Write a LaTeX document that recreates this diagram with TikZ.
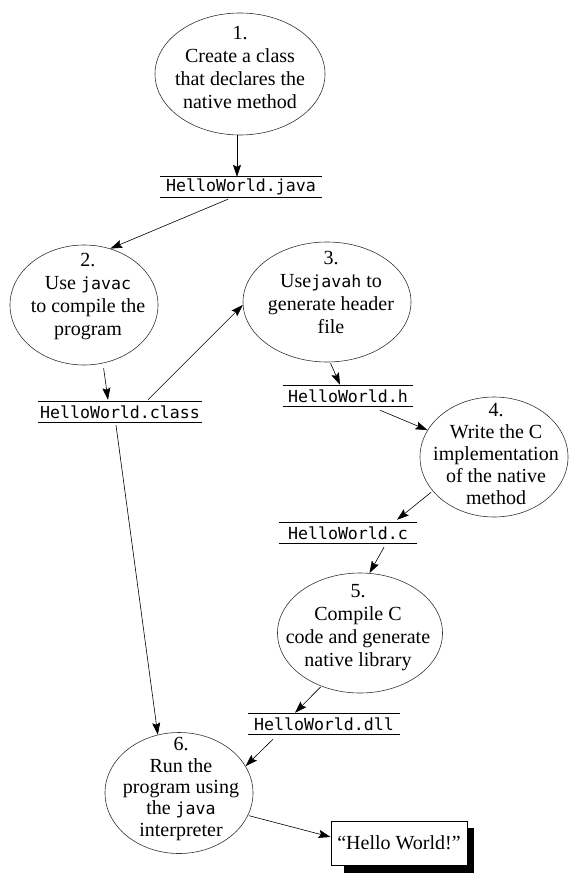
\documentclass[tikz,border=0pt]{standalone}
\usepackage{fontspec}
\setmainfont{Liberation Serif}
\setmonofont{DejaVu Sans Mono}[Scale=0.83]
\usetikzlibrary{shapes.geometric,arrows.meta,backgrounds}
\begin{document}
\begin{tikzpicture}[x=1pt,y=-1pt,
  font=\fontsize{20}{23}\selectfont,
  stepell/.style={ellipse, draw=black!80, line width=0.6pt, inner sep=0pt},
  txt/.style={align=center, font=\fontsize{20}{23}\selectfont},
  code/.style={font=\fontsize{20}{20}\selectfont\ttfamily, minimum height=20pt, inner sep=0pt},
  rulefine/.style={line width=1pt},
  arr/.style={-{Stealth[length=12pt,width=8pt,inset=2pt]}, line width=0.6pt}]
\useasboundingbox (0,0) rectangle (581,880);

% ellipses
\node[stepell, minimum width=170pt, minimum height=122pt,
  label={[txt,yshift=6.5pt]center:{1.\\Create a class\\that declares the\\native method}}] (e1) at (240,74) {};
\node[stepell, minimum width=148pt, minimum height=120pt,
  label={[txt,yshift=8pt,xshift=4pt]center:{2.\\Use \texttt{javac}\\to compile the\\program}}] (e2) at (84,305) {};
\node[stepell, minimum width=168pt, minimum height=120pt,
  label={[txt,yshift=10pt,xshift=4pt]center:{3.\\Use\texttt{javah} to\\generate header\\file}}] (e3) at (327,302) {};
\node[stepell, minimum width=148pt, minimum height=120pt,
  label={[txt,yshift=3pt,xshift=2pt,font=\fontsize{20}{21.8}\selectfont]center:{4.\\Write the C\\implementation\\of the native\\method}}] (e4) at (494,457) {};
\node[stepell, minimum width=165pt, minimum height=120pt,
  label={[txt,yshift=5pt,xshift=-2pt]center:{5.\\Compile C\\code and generate\\native library}}] (e5) at (360,633) {};
\node[stepell, minimum width=148pt, minimum height=121pt,
  label={[txt,yshift=4pt,xshift=2pt,font=\fontsize{20}{21.3}\selectfont]center:{6.\\Run the\\program using\\the \texttt{java}\\interpreter}}] (e6) at (179,793) {};

% code files
\node[code, minimum width=162pt] (java) at (241,187) {HelloWorld.java};
\node[code, minimum width=164pt] (cls) at (120,412) {HelloWorld.class};
\node[code, minimum width=130pt] (hh) at (348,396) {HelloWorld.h};
\node[code, minimum width=138pt] (cc) at (348,533) {HelloWorld.c};
\node[code, minimum width=152pt] (dll) at (324,724) {HelloWorld.dll};
\foreach \n in {java,cls,hh,cc,dll}{
  \draw[rulefine] (\n.north west) -- (\n.north east);
  \draw[rulefine] (\n.south west) -- (\n.south east);
}

% output box
\node[draw, line width=0.8pt, fill=white, minimum width=136pt, minimum height=44pt, inner sep=0pt] (hw) at (399,843) {“Hello World!”};
\begin{pgfonlayer}{background}
\fill[black] ([xshift=13pt,yshift=-8pt]hw.south west) rectangle ([xshift=7pt,yshift=-7pt]hw.north east);
\end{pgfonlayer}

% connectors
\draw[arr] ([xshift=-3pt]e1.south) -- ([xshift=-4pt]java.north);
\draw[arr] ([xshift=-13pt,yshift=-2pt]java.south) -- (e2.65);
\draw[arr, shorten <=5pt] (e2.-72) -- ([xshift=-12pt,yshift=2pt]cls.north);
\draw[arr] ([xshift=28pt,yshift=2pt]cls.north) -- (e3.182);
\draw[arr, shorten <=1pt] (e3.-87) -- ([xshift=-8pt,yshift=1pt]hh.north);
\draw[arr] ([xshift=32pt,yshift=-4pt]hh.south) -- (e4.158);
\draw[arr, shorten <=2pt] (e4.-151) -- ([xshift=49pt,yshift=3pt]cc.north);
\draw[arr] ([xshift=36pt,yshift=-4pt]cc.south) -- (e5.81);
\draw[arr, shorten <=1pt] (e5.-126) -- ([xshift=-29pt,yshift=1pt]dll.north);
\draw[arr] ([xshift=-4pt,yshift=-3pt]cls.south) -- (e6.110);
\draw[arr] ([xshift=-51pt,yshift=-5pt]dll.south) -- (e6.22);
\draw[arr, shorten <=1pt] (e6.-18) -- ([yshift=6pt]hw.west);
\end{tikzpicture}
\end{document}
